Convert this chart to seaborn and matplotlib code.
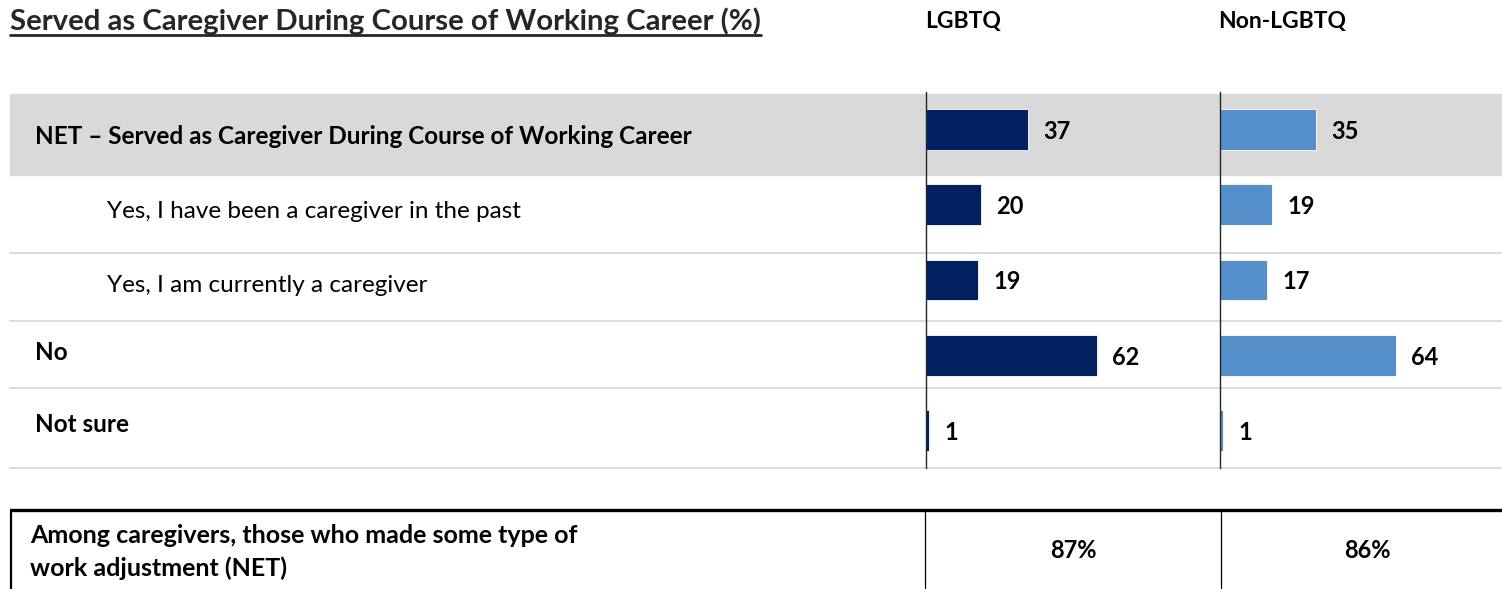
import matplotlib
matplotlib.use("Agg")
import matplotlib.pyplot as plt
import seaborn as sns
import pandas as pd

# ---- data ----
title = "Served as Caregiver During Course of Working Career (%)"
groups = ["LGBTQ", "Non-LGBTQ"]
categories = [
    "NET \u2013 Served as Caregiver During Course of Working Career",
    "Yes, I have been a caregiver in the past",
    "Yes, I am currently a caregiver",
    "No",
    "Not sure",
]
bold_rows = [True, False, False, True, True]
indented_rows = [False, True, True, False, False]
lgbtq_values = [37, 20, 19, 62, 1]
non_lgbtq_values = [35, 19, 17, 64, 1]
adjust_label = "Among caregivers, those who made some type of\nwork adjustment (NET)"
adjust_values = [87, 86]

NAVY = "#002060"
LIGHT_BLUE = "#558FC9"
BAND = "#D9D9D9"
RULE = "#D9D9D9"

sns.set_theme(style="white")
plt.rcParams["font.family"] = ["Lato", "DejaVu Sans"]

W, H = 1502, 589
fig = plt.figure(figsize=(W / 100, H / 100), dpi=100)

# background layer in pixel units (y grows downward)
bg = fig.add_axes([0, 0, 1, 1])
bg.set_xlim(0, W)
bg.set_ylim(H, 0)
bg.axis("off")

def frac(x0, y_top, w, h):
    return [x0 / W, 1 - (y_top + h) / H, w / W, h / H]

# table layout
band_top, band_bottom = 94, 175
rules = [253, 321, 388, 468]
label_baselines = [144, 218, 292, 360, 432]

bg.axhspan(band_top, band_bottom, xmin=10 / W, xmax=1.0, color=BAND, zorder=0)
for r in rules:
    bg.plot([10, W], [r, r], color=RULE, lw=1.3, zorder=1)

for text, base, b, ind in zip(categories, label_baselines, bold_rows, indented_rows):
    bg.text(107 if ind else 35, base, text, fontsize=17.5,
            fontweight="bold" if b else "normal", va="baseline", ha="left",
            color="black")

# title with underline
t = bg.text(10, 30, title, fontsize=21.2, fontweight="bold", color="#262626",
            va="baseline", ha="left")
fig.canvas.draw()
bb = t.get_window_extent(renderer=fig.canvas.get_renderer())
bg.plot([bb.x0, bb.x1], [35, 35], color="#262626", lw=2.0)

# column headers
col_centers = [963, 1282]
for g, cx in zip(groups, col_centers):
    bg.text(cx, 28, g, fontsize=16.5, fontweight="bold", ha="center",
            va="baseline", color="black")

# bar panels
px_per_unit = 2.75
panels = [(926, 1220, lgbtq_values, NAVY), (1220, W, non_lgbtq_values, LIGHT_BLUE)]
ax_top, ax_bottom = 92, 468
for x0, x1, vals, col in panels:
    ax = fig.add_axes(frac(x0, ax_top, x1 - x0, ax_bottom - ax_top))
    df = pd.DataFrame({"category": categories, "value": vals})
    sns.barplot(data=df, x="value", y="category", order=categories, color=col,
                width=0.545, ax=ax, edgecolor="white", linewidth=0.6,
                saturation=1)
    ax.set_xlim(0, (x1 - x0) / px_per_unit)
    ax.set_ylim(len(categories) - 0.5, -0.5)
    ax.patch.set_visible(False)
    for s in ["top", "right", "bottom"]:
        ax.spines[s].set_visible(False)
    ax.spines["left"].set_color("#262626")
    ax.spines["left"].set_linewidth(1.0)
    ax.set_xticks([])
    ax.set_yticks([])
    ax.set_xlabel("")
    ax.set_ylabel("")
    labels = ax.bar_label(ax.containers[0], fmt="%d", padding=11, fontsize=17,
                          fontweight="bold", color="black")
    for lab in labels:
        lab.set_va("center_baseline")

# summary box
box_top = 510
bg.plot([10, W], [box_top, box_top], color="black", lw=2.4, solid_capstyle="butt")
bg.plot([11, 11], [box_top, H], color="black", lw=1.6)
for xd in [925, 1221]:
    bg.plot([xd, xd], [box_top, H], color="black", lw=0.9)
bg.text(30, 552, adjust_label, fontsize=18, fontweight="bold", ha="left",
        va="center", linespacing=1.5, color="black")
for v, cx in zip(adjust_values, [1073, 1367]):
    bg.text(cx, 551, f"{v}%", fontsize=17, fontweight="bold", ha="center",
            va="center", color="black")

fig.savefig("out.png", dpi=100)
